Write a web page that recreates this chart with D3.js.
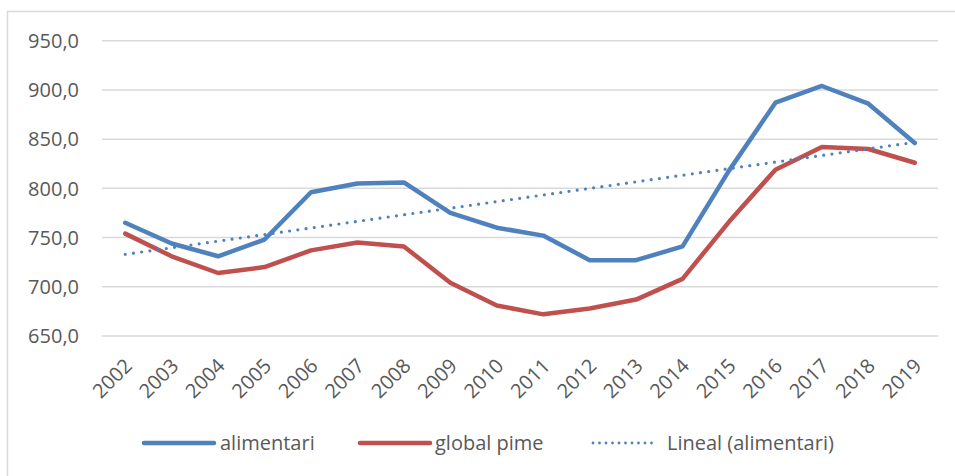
<!DOCTYPE html>
<html><head><meta charset="utf-8">
<script src="https://cdn.jsdelivr.net/npm/d3@7"></script>
<style>
html,body{margin:0;padding:0;background:#fff;}
svg{display:block;font-family:"Open Sans",Lato,sans-serif;}
</style></head>
<body><svg id="c" width="955" height="476"></svg>
<script>
const years = ["2002","2003","2004","2005","2006","2007","2008","2009","2010","2011","2012","2013","2014","2015","2016","2017","2018","2019"];
const alimentari = [765, 744, 731, 748, 796, 805, 806, 775, 760, 752, 727, 727, 741, 818, 887, 904, 886, 846];
const globalPime = [754, 731, 714, 720, 737, 745, 741, 704, 681, 672, 678, 687, 708, 766, 819, 842, 840, 826];
const yTicks = [650, 700, 750, 800, 850, 900, 950];
const seriesNames = ["alimentari", "global pime", "Lineal (alimentari)"];

const blue = "#4f81bd", red = "#c0504d", grid = "#d9d9d9", txt = "#595959";
const svg = d3.select("#c");
const L = 102, R = 938, T = 40.7, B = 336;
const FS = 20;

// chart frame (left + top edge visible)
svg.append("path").attr("d", "M7.5,476V11.5H955").attr("fill", "none").attr("stroke", grid).attr("stroke-width", 1.5);

const x = d3.scaleBand().domain(years).range([L, R]);
const y = d3.scaleLinear().domain([650, 950]).range([B, T]);
const cx = d => x(d) + x.bandwidth() / 2;

// gridlines
svg.append("g").selectAll("line").data(yTicks).join("line")
  .attr("x1", L).attr("x2", R).attr("y1", d => y(d)).attr("y2", d => y(d))
  .attr("stroke", grid).attr("stroke-width", 1.5);

// y axis labels
const fmt = d => d3.format(".1f")(d).replace(".", ",");
svg.append("g").selectAll("text").data(yTicks).join("text")
  .attr("x", 79).attr("y", d => y(d)).attr("dy", "0.36em")
  .attr("text-anchor", "end").attr("fill", txt).attr("font-size", FS)
  .text(fmt);

// x axis labels
svg.append("g").selectAll("text").data(years).join("text")
  .attr("transform", d => `translate(${cx(d) + 3},${362}) rotate(-45)`)
  .attr("text-anchor", "end").attr("dy", "0.36em")
  .attr("fill", txt).attr("font-size", FS)
  .text(d => d);

// trendline (least squares of alimentari)
const n = alimentari.length;
const xm = (n - 1) / 2, ym = d3.mean(alimentari);
let sxy = 0, sxx = 0;
alimentari.forEach((v, i) => { sxy += (i - xm) * (v - ym); sxx += (i - xm) * (i - xm); });
const slope = sxy / sxx, icpt = ym - slope * xm;

const line = d3.line().x((d, i) => cx(years[i])).y(d => y(d));

svg.append("path").datum(alimentari).attr("d", line)
  .attr("fill", "none").attr("stroke", blue).attr("stroke-width", 4.5)
  .attr("stroke-linejoin", "round").attr("stroke-linecap", "round");
svg.append("path").datum(globalPime).attr("d", line)
  .attr("fill", "none").attr("stroke", red).attr("stroke-width", 4.5)
  .attr("stroke-linejoin", "round").attr("stroke-linecap", "round");
svg.append("line")
  .attr("x1", cx(years[0])).attr("y1", y(icpt))
  .attr("x2", cx(years[n - 1])).attr("y2", y(icpt + slope * (n - 1)))
  .attr("stroke", blue).attr("stroke-width", 3.2).attr("stroke-linecap", "round")
  .attr("stroke-dasharray", "0 8.3");

// legend
const legY = 443;
const leg = [
  {name: seriesNames[0], color: blue, x0: 144, x1: 214, tx: 220, dash: null, w: 4.5},
  {name: seriesNames[1], color: red, x0: 360, x1: 430, tx: 435, dash: null, w: 4.5},
  {name: seriesNames[2], color: blue, x0: 593, x1: 653, tx: 667, dash: "0 6.5", w: 2.8}
];
const lg = svg.append("g").selectAll("g").data(leg).join("g");
lg.append("line").attr("x1", d => d.x0).attr("x2", d => d.x1).attr("y1", legY).attr("y2", legY)
  .attr("stroke", d => d.color).attr("stroke-width", d => d.w).attr("stroke-linecap", "round")
  .attr("stroke-dasharray", d => d.dash);
lg.append("text").attr("x", d => d.tx).attr("y", legY).attr("dy", "0.36em")
  .attr("fill", txt).attr("font-size", FS).text(d => d.name);
</script></body></html>
